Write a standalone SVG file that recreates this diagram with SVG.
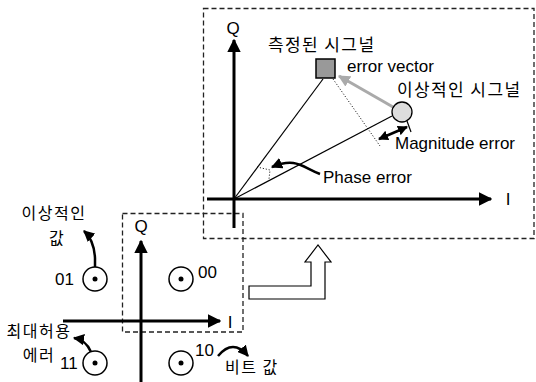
<svg xmlns="http://www.w3.org/2000/svg" width="536" height="382" viewBox="0 0 536 382">
<style>
.box{fill:none;stroke:#222;stroke-width:1.3;stroke-dasharray:5,3}
.ax{stroke:#000;stroke-width:3;fill:none}
.ln{stroke:#000;stroke-width:1.2;fill:none}
.t{font-family:"Liberation Sans",Arial,sans-serif;font-size:17px;fill:#000}
.k{font-family:"Noto Sans CJK KR","Liberation Sans",sans-serif;font-size:16px;letter-spacing:1.5px;fill:#000}
.kb{font-family:"Noto Sans CJK KR","Liberation Sans",sans-serif;font-size:17px;letter-spacing:1.4px;fill:#000}
.pt{fill:#fff;stroke:#000;stroke-width:1.5}
.cur{stroke:#000;stroke-width:2.5;fill:none}
</style>
<defs>
<marker id="ah" viewBox="0 0 10 10" refX="9" refY="5" markerWidth="4.5" markerHeight="4.5" orient="auto" markerUnits="strokeWidth">
<path d="M0,0 L10,5 L0,10 Z" fill="#000"/>
</marker>
<marker id="ahs" viewBox="0 0 10 10" refX="9" refY="5" markerWidth="4" markerHeight="4" orient="auto-start-reverse" markerUnits="strokeWidth">
<path d="M0,0 L10,5 L0,10 Z" fill="#000"/>
</marker>
<marker id="ahg" viewBox="0 0 10 10" refX="9" refY="5" markerWidth="4" markerHeight="4" orient="auto" markerUnits="strokeWidth">
<path d="M0,0 L10,5 L0,10 Z" fill="#aaa"/>
</marker>
</defs>

<g id="frames">
<rect class="box" x="203.5" y="8.5" width="330.5" height="230"/>
<rect class="box" x="122.5" y="213.5" width="120.5" height="118.5"/>
</g>

<g id="connectors">
<line class="ax" x1="234" y1="228" x2="234" y2="40" marker-end="url(#ah)"/>
<line class="ax" x1="207" y1="199" x2="491" y2="199" marker-end="url(#ah)"/>
<line class="ln" x1="234" y1="199" x2="323" y2="79"/>
<line class="ln" x1="234" y1="199" x2="392" y2="116"/>
<line x1="333" y1="79" x2="380" y2="146" stroke="#000" stroke-width="1" stroke-dasharray="1,2"/>
<path d="M257,167 L270,170 L269,179" fill="none" stroke="#000" stroke-width="1" stroke-dasharray="1,2"/>
<line x1="393" y1="107" x2="339" y2="76" stroke="#aaa" stroke-width="3" marker-end="url(#ahg)"/>
<line x1="379" y1="139" x2="407" y2="127" stroke="#000" stroke-width="2.5" marker-start="url(#ahs)" marker-end="url(#ahs)"/>
<line class="ln" x1="407" y1="121" x2="411" y2="132"/>
<path class="cur" d="M320,174 C302,167 296,157 272,167" marker-end="url(#ah)"/>
<line class="ax" x1="141" y1="382" x2="141" y2="241" marker-end="url(#ah)"/>
<line class="ax" x1="63" y1="321" x2="220" y2="321" marker-end="url(#ah)"/>
<path class="cur" d="M95,278 L95,258 Q94,240 84,231" marker-end="url(#ah)"/>
<path class="cur" d="M91,352 Q86,340 74,338" marker-end="url(#ah)"/>
<path class="cur" d="M218,356 Q233,338 248,356" marker-end="url(#ah)"/>
<path d="M249,286 L311,286 L311,262 L305,262 L318,245 L331,262 L325,262 L325,299 L249,299 Z" fill="#fff" stroke="#000" stroke-width="1.2"/>
</g>

<g id="measured-signal">
<rect x="316" y="59" width="19" height="19" fill="#999" stroke="#000" stroke-width="1.5"/>
<text class="kb" x="268" y="51">측정된 시그널</text>
</g>
<g id="ideal-signal">
<circle cx="402" cy="112" r="10" fill="#ddd" stroke="#000" stroke-width="1.3"/>
<text class="kb" x="397" y="96">이상적인 시그널</text>
</g>
<g id="labels-big">
<text class="t" x="233" y="34" text-anchor="middle">Q</text>
<text class="t" x="508" y="205" text-anchor="middle">I</text>
<text class="t" x="347" y="72">error vector</text>
<text class="t" x="395" y="149">Magnitude error</text>
<text class="t" x="323" y="183">Phase error</text>
</g>

<g id="p01">
<circle class="pt" cx="95" cy="279" r="12"/><circle cx="95" cy="279" r="2.5"/>
<text class="t" x="55" y="285">01</text>
</g>
<g id="p00">
<circle class="pt" cx="181" cy="279" r="12"/><circle cx="181" cy="279" r="2.5"/>
<text class="t" x="198" y="278">00</text>
</g>
<g id="p11">
<circle class="pt" cx="95" cy="363" r="12"/><circle cx="95" cy="363" r="2.5"/>
<text class="t" x="60" y="369">11</text>
</g>
<g id="p10">
<circle class="pt" cx="181" cy="363" r="12"/><circle cx="181" cy="363" r="2.5"/>
<text class="t" x="195" y="356">10</text>
</g>
<g id="labels-small">
<text class="t" x="141" y="232" text-anchor="middle">Q</text>
<text class="t" x="230" y="328" text-anchor="middle">I</text>
<text class="k" x="54" y="219" text-anchor="middle">이상적인</text>
<text class="k" x="57" y="244" text-anchor="middle">값</text>
<text class="k" x="39" y="337" text-anchor="middle">최대허용</text>
<text class="k" x="39" y="361" text-anchor="middle">에러</text>
<text class="k" x="225" y="373">비트 값</text>
</g>
</svg>
